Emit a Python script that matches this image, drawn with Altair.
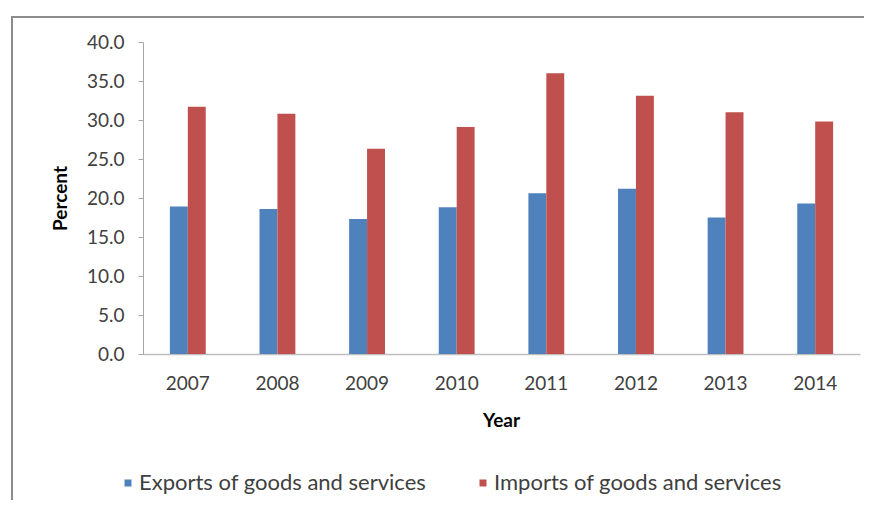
import altair as alt
import pandas as pd

years = ["2007", "2008", "2009", "2010", "2011", "2012", "2013", "2014"]
exports = [18.9, 18.6, 17.3, 18.8, 20.6, 21.2, 17.5, 19.3]
imports = [31.7, 30.8, 26.3, 29.1, 36.0, 33.1, 31.0, 29.8]
series = ["Exports of goods and services", "Imports of goods and services"]
colors = ["#4F81BD", "#C0504D"]

rows = []
for i, y in enumerate(years):
    rows.append({"Year": y, "Series": series[0], "Percent": exports[i]})
    rows.append({"Year": y, "Series": series[1], "Percent": imports[i]})
df = pd.DataFrame(rows)

FONT = "Lato"
TXT = "#404040"

bars = alt.Chart(df).mark_bar().encode(
    x=alt.X("Year:N", sort=years,
            scale=alt.Scale(paddingInner=0.6, paddingOuter=0.3),
            axis=alt.Axis(title="Year", labelAngle=0, ticks=False, labelPadding=20,
                          domainColor="#BFBFBF", domainWidth=1.5,
                          titleX=358, titleY=66, titleBaseline="middle",
                          titleAlign="center")),
    xOffset=alt.XOffset("Series:N", sort=series),
    y=alt.Y("Percent:Q", scale=alt.Scale(domain=[0, 40]),
            axis=alt.Axis(title="Percent", values=[0, 5, 10, 15, 20, 25, 30, 35, 40],
                          format=".1f", grid=False, tickSize=5, labelPadding=14,
                          domainColor="#A6A6A6", tickColor="#A6A6A6",
                          titleAngle=-90, titleX=-83, titleY=156,
                          titleAlign="center", titleBaseline="middle")),
    color=alt.Color("Series:N", sort=series,
                    scale=alt.Scale(domain=series, range=colors),
                    legend=alt.Legend(title=None, orient="none", direction="horizontal",
                                      legendX=-26, legendY=430, symbolType="square",
                                      symbolSize=49, symbolStrokeWidth=0,
                                      labelOffset=0, columnPadding=45,
                                      labelFontSize=22, labelFont=FONT,
                                      labelColor=TXT, labelLimit=400)),
)

frame = pd.DataFrame({"a": [0]})
top_line = alt.Chart(frame).mark_rule(stroke="#8C8C8C", strokeWidth=2).encode(
    x=alt.value(-131), x2=alt.value(2000), y=alt.value(-25),
)
left_line = alt.Chart(frame).mark_rule(stroke="#8C8C8C", strokeWidth=2).encode(
    x=alt.value(-131), y=alt.value(-26), y2=alt.value(600),
)

chart = alt.layer(top_line, left_line, bars).properties(
    width=717, height=312,
    padding={"left": 135, "top": 34, "right": 4, "bottom": 146},
    autosize=alt.AutoSizeParams(type="none"),
).configure_view(stroke=None).configure_axis(
    labelFont=FONT, labelFontSize=19, labelColor=TXT,
    titleFont=FONT, titleFontSize=19, titleFontWeight="bold", titleColor="#000000",
)

chart.save("out.html", embed_options={"renderer": "svg", "actions": False})
